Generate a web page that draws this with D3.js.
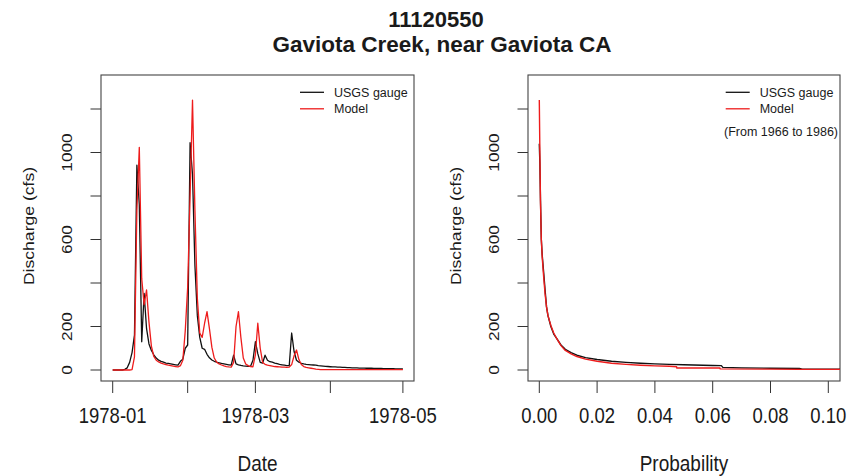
<!DOCTYPE html>
<html>
<head>
<meta charset="utf-8">
<script src="https://cdn.jsdelivr.net/npm/d3@7"></script>
<style>
  body { margin: 0; background: #fff; }
  svg { display: block; }
  text { font-family: "Liberation Sans", Arial, sans-serif; fill: #1a1a1a; }
</style>
</head>
<body>
<svg id="chart" width="851" height="476"></svg>
<script>
// Station and period
const stationId = "11120550";
const stationName = "Gaviota Creek, near Gaviota CA";
const periodNote = "(From 1966 to 1986)";
const seriesNames = ["USGS gauge", "Model"];
const seriesColors = ["#111111", "#ee1c1c"];

// Daily mean discharge (cfs), 1978-01-01 .. 1978-05-01
const startDate = new Date(1978, 0, 1);
const gaugeFlow = [
  0, 0, 0, 0, 0, 3, 10, 35, 80, 160,
  942, 760, 130, 352, 190, 120, 90, 70, 55, 45,
  40, 36, 32, 30, 28, 26, 24, 22, 40, 50,
  100, 115, 1045, 900, 480, 250, 150, 100, 95, 72,
  56, 46, 40, 36, 33, 30, 28, 26, 24, 22,
  68, 28, 24, 21, 19, 18, 17, 17, 45, 130,
  75, 35, 32, 68, 45, 38, 36, 32, 29, 26,
  24, 22, 20, 20, 170, 85, 45, 36, 31, 28,
  26, 25, 24, 23, 22, 20, 19, 18, 17, 16,
  15, 14, 14, 13, 13, 12, 12, 11, 11, 10,
  10, 10, 9, 9, 9, 8, 8, 8, 7, 7,
  7, 7, 6, 6, 6, 6, 6, 5, 5, 5, 5
];
const modelFlow = [
  0, 0, 0, 0, 0, 0, 0, 0, 2, 60,
  735, 1024, 420, 300, 368, 220, 110, 62, 45, 37,
  32, 28, 25, 22, 20, 18, 16, 14, 20, 45,
  180, 380, 800, 1241, 735, 330, 170, 150, 215, 268,
  190, 105, 55, 36, 28, 23, 19, 16, 14, 13,
  35, 200, 268, 150, 55, 28, 20, 16, 15, 70,
  215, 100, 35, 26, 22, 20, 18, 16, 15, 14,
  13, 13, 12, 13, 25, 65, 92, 48, 25, 16,
  12, 10, 8, 6, 4, 3, 2, 2, 2, 2,
  2, 2, 2, 2, 2, 2, 2, 2, 2, 2,
  2, 2, 2, 2, 2, 2, 2, 2, 2, 2,
  2, 2, 2, 2, 2, 2, 2, 2, 2, 2, 2
];

// Flow duration curves, 1966-1986 (exceedance probability vs discharge)
const fdcGaugeProb = [0, 0.0002, 0.0004, 0.0007, 0.001, 0.0015, 0.002, 0.0025, 0.003, 0.004,
  0.005, 0.006, 0.0075, 0.009, 0.011, 0.013, 0.016, 0.02, 0.025, 0.03,
  0.035, 0.04, 0.045, 0.05, 0.06, 0.063, 0.0635, 0.07, 0.08, 0.09, 0.091, 0.11];
const fdcGaugeQ = [1040, 950, 790, 600, 530, 450, 368, 290, 250, 200,
  165, 145, 115, 95, 80, 68, 57, 48, 40, 35,
  31, 28, 26, 24, 21, 20, 12, 10, 8, 7, 4, 4];
const fdcModelProb = [0, 0.0002, 0.0004, 0.0007, 0.001, 0.0015, 0.002, 0.0025, 0.003, 0.004,
  0.005, 0.006, 0.0075, 0.009, 0.011, 0.013, 0.016, 0.02, 0.025, 0.03,
  0.035, 0.04, 0.045, 0.0475, 0.0476, 0.0625, 0.0626, 0.08, 0.09, 0.11];
const fdcModelQ = [1241, 1000, 780, 600, 520, 430, 350, 290, 250, 205,
  170, 145, 112, 90, 74, 62, 50, 40, 31, 26,
  22, 19, 17, 15, 9, 9, 5, 4, 3, 3];

// Axis ticks
const dateTicks = ["1978-01-01", "1978-02-01", "1978-03-01", "1978-04-01", "1978-05-01"];
const dateTickLabels = ["1978-01", "", "1978-03", "", "1978-05"];
const flowTicks = [0, 200, 400, 600, 800, 1000, 1200];
const flowTickLabels = ["0", "200", "", "600", "", "1000", ""];
const probTicks = [0, 0.02, 0.04, 0.06, 0.08, 0.10];
const probTickLabels = ["0.00", "0.02", "0.04", "0.06", "0.08", "0.10"];

// ---------------------------------------------------------------
const svg = d3.select("#chart");
const SY = 1.15; // vertical stretch of glyphs

function addText(g, x, yPos, str, size, opt = {}) {
  const rot = opt.rotate ? " rotate(-90)" : "";
  const sy = opt.sy === undefined ? SY : opt.sy;
  return g.append("text")
    .attr("transform", `translate(${x},${yPos}) scale(1,${sy})${rot}`)
    .attr("font-size", size)
    .attr("font-weight", opt.bold ? "bold" : null)
    .attr("text-anchor", opt.anchor || "middle")
    .text(str);
}

// Title
addText(svg, 436, 27, stationId, 22, { bold: true, sy: 1 });
addText(svg, 442, 52, stationName, 22.5, { bold: true, sy: 1 });

const plotTop = 75, plotBottom = 381;
const y = d3.scaleLinear().domain([0, 1200]).range([370, 109]);
const parse = d3.timeParse("%Y-%m-%d");

function panel(box, x, ticks, tickLabels, xTitle, id) {
  const g = svg.append("g");
  g.append("clipPath").attr("id", id)
    .append("rect").attr("x", box.left).attr("y", plotTop)
    .attr("width", box.right - box.left).attr("height", plotBottom - plotTop);

  // y axis
  flowTicks.forEach((v, i) => {
    g.append("line").attr("x1", box.left).attr("x2", box.left - 10.5)
      .attr("y1", y(v)).attr("y2", y(v)).attr("stroke", "#333").attr("stroke-width", 1);
    if (flowTickLabels[i]) addText(g, box.left - 29, y(v), flowTickLabels[i], 15, { rotate: true });
  });
  addText(g, box.left - 67.5, (plotTop + plotBottom) / 2 - 2, "Discharge (cfs)", 15.3, { rotate: true });

  // x axis
  ticks.forEach((v, i) => {
    g.append("line").attr("x1", x(v)).attr("x2", x(v))
      .attr("y1", plotBottom).attr("y2", plotBottom + 12).attr("stroke", "#333").attr("stroke-width", 1);
    if (tickLabels[i]) addText(g, x(v), 423, tickLabels[i], 18.5);
  });
  addText(g, (box.left + box.right) / 2, 471, xTitle, 19);

  g.append("rect").attr("x", box.left).attr("y", plotTop)
    .attr("width", box.right - box.left).attr("height", plotBottom - plotTop)
    .attr("fill", "none").attr("stroke", "#444").attr("stroke-width", 1.1);
  return g.append("g").attr("clip-path", `url(#${id})`);
}

function legend(g, lx, ly) {
  seriesNames.forEach((name, i) => {
    const yy = ly + i * 16.5;
    g.append("line").attr("x1", lx).attr("x2", lx + 24).attr("y1", yy).attr("y2", yy)
      .attr("stroke", seriesColors[i]).attr("stroke-width", 1.3);
    addText(g, lx + 34, yy + 4.5, name, 12.5, { anchor: "start", sy: 1 });
  });
}

// Left panel: hydrograph
const boxL = { left: 101, right: 414 };
const xL = d3.scaleTime()
  .domain([parse(dateTicks[0]), parse(dateTicks[dateTicks.length - 1])])
  .range([112.7, 402.9]);
const plotL = panel(boxL, xL, dateTicks.map(parse), dateTickLabels, "Date", "clipL");
const dayLine = d3.line()
  .x((d, i) => xL(d3.timeDay.offset(startDate, i)))
  .y(d => y(d));
[gaugeFlow, modelFlow].forEach((s, k) => {
  plotL.append("path").attr("d", dayLine(s)).attr("fill", "none")
    .attr("stroke", seriesColors[k]).attr("stroke-width", 1.3)
    .attr("stroke-linejoin", "round");
});
legend(svg, 300, 92.3);

// Right panel: flow duration curve
const boxR = { left: 528, right: 840 };
const xR = d3.scaleLinear().domain([0, 0.1]).range([539.3, 828.3]);
const plotR = panel(boxR, xR, probTicks, probTickLabels, "Probability", "clipR");
const fdcLine = d3.line().x(d => xR(d[0])).y(d => y(d[1]));
[[fdcGaugeProb, fdcGaugeQ], [fdcModelProb, fdcModelQ]].forEach(([p, q], k) => {
  plotR.append("path").attr("d", fdcLine(d3.zip(p, q))).attr("fill", "none")
    .attr("stroke", seriesColors[k]).attr("stroke-width", 1.4)
    .attr("stroke-linejoin", "round");
});
legend(svg, 725.7, 92.3);
addText(svg, 838, 136, periodNote, 12.5, { anchor: "end", sy: 1 });
</script>
</body>
</html>
